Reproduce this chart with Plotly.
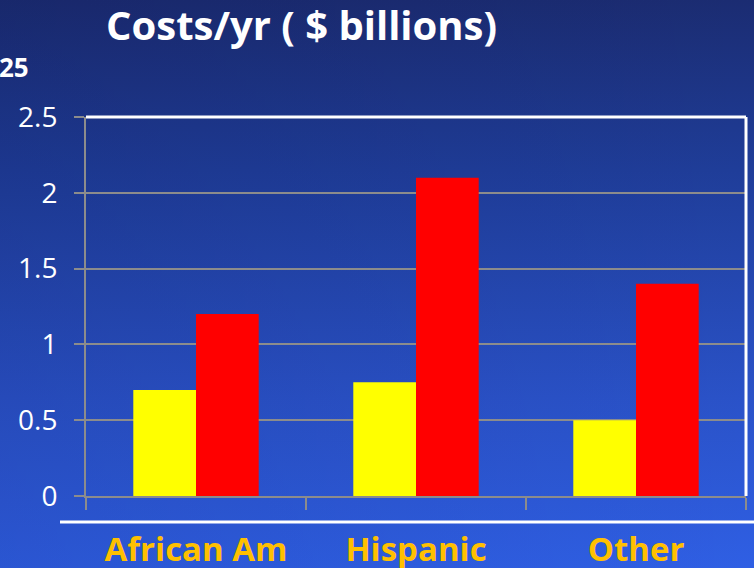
import base64
import plotly.graph_objects as go

# Annual cost by group, $ billions
categories = ["African Am", "Hispanic", "Other"]
series_a = [0.7, 0.75, 0.5]   # yellow bars
series_b = [1.2, 2.1, 1.4]    # red bars
y_tickvals = [0, 0.5, 1, 1.5, 2, 2.5]
y_ticktext = ["0", "0.5", "1", "1.5", "2", "2.5"]

W, H = 754, 568
L, R, T, B = 86, 8, 117, 72
pw, ph = W - L - R, H - T - B

FONT = "Open Sans"

# Slide-style blue gradient background as an inline SVG
svg = f"""<svg xmlns='http://www.w3.org/2000/svg' width='{W}' height='{H}' preserveAspectRatio='none'>
<defs>
<linearGradient id='v' x1='0' y1='0' x2='0' y2='1'>
<stop offset='0' stop-color='#1b2c72'/>
<stop offset='0.3' stop-color='#1f3d99'/>
<stop offset='0.7' stop-color='#2a52c8'/>
<stop offset='1' stop-color='#2f5fe4'/>
</linearGradient>
<linearGradient id='h' x1='0' y1='0' x2='1' y2='0'>
<stop offset='0' stop-color='#000030' stop-opacity='0.10'/>
<stop offset='1' stop-color='#000030' stop-opacity='0'/>
</linearGradient>
</defs>
<rect width='{W}' height='{H}' fill='url(#v)'/>
<rect width='{W}' height='{H}' fill='url(#h)'/>
</svg>"""
bg_src = "data:image/svg+xml;base64," + base64.b64encode(svg.encode()).decode()

fig = go.Figure()
fig.add_trace(go.Bar(x=categories, y=series_a, marker=dict(color="#FFFF00", line=dict(width=0))))
fig.add_trace(go.Bar(x=categories, y=series_b, marker=dict(color="#FF0000", line=dict(width=0))))

fig.update_layout(
    width=W, height=H,
    margin=dict(l=L, r=R, t=T, b=B, pad=0, autoexpand=False),
    paper_bgcolor="#2446b0",
    plot_bgcolor="rgba(0,0,0,0)",
    barmode="group",
    bargap=0.43,
    bargroupgap=0,
    showlegend=False,
    images=[dict(
        source=bg_src, xref="paper", yref="paper",
        x=-L / pw, y=1 + T / ph, sizex=W / pw, sizey=H / ph,
        xanchor="left", yanchor="top", sizing="stretch", layer="below",
    )],
    xaxis=dict(
        type="category",
        automargin=False,
        tickson="boundaries",
        ticks="outside", ticklen=12, tickwidth=2, tickcolor="#8c8c8c",
        showline=True, linecolor="#8c8c8c", linewidth=2,
        showgrid=False, zeroline=False,
        tickfont=dict(family=FONT, size=33, color="#FFC000", weight="bold"),
        ticklabelstandoff=23,
    ),
    yaxis=dict(
        range=[0, 2.5],
        automargin=False,
        tickvals=y_tickvals, ticktext=y_ticktext,
        ticks="outside", ticklen=10, tickwidth=2, tickcolor="#8c8c8c",
        showline=True, linecolor="#8c8c8c", linewidth=2,
        showgrid=True, gridcolor="#8c8c8c", gridwidth=2,
        zeroline=False,
        tickfont=dict(family=FONT, size=28, color="white"),
        ticklabelstandoff=11,
    ),
    shapes=[
        # white frame on the top and right of the plot area
        dict(type="line", xref="paper", yref="paper", x0=0, x1=1, y0=1, y1=1,
             line=dict(color="white", width=3)),
        dict(type="line", xref="paper", yref="paper", x0=1, x1=1, y0=0, y1=1,
             line=dict(color="white", width=3)),
        # white rule above the category labels
        dict(type="line", xref="paper", yref="paper",
             x0=(60 - L) / pw, x1=(W - L) / pw,
             y0=-(522 - (T + ph)) / ph, y1=-(522 - (T + ph)) / ph,
             line=dict(color="white", width=3)),
    ],
    annotations=[
        dict(text="Costs/yr ( $ billions)", xref="paper", yref="paper",
             x=(104 - L) / pw, y=1 + (T - 25) / ph, xanchor="left", yanchor="middle",
             showarrow=False,
             font=dict(family=FONT, size=40, color="white", weight="bold")),
        dict(text="25", xref="paper", yref="paper",
             x=-L / pw, y=1 + (T - 67) / ph, xanchor="left", yanchor="middle",
             showarrow=False, xshift=-3,
             font=dict(family=FONT, size=26, color="white", weight="bold")),
    ],
)

fig.write_html("out.html")
